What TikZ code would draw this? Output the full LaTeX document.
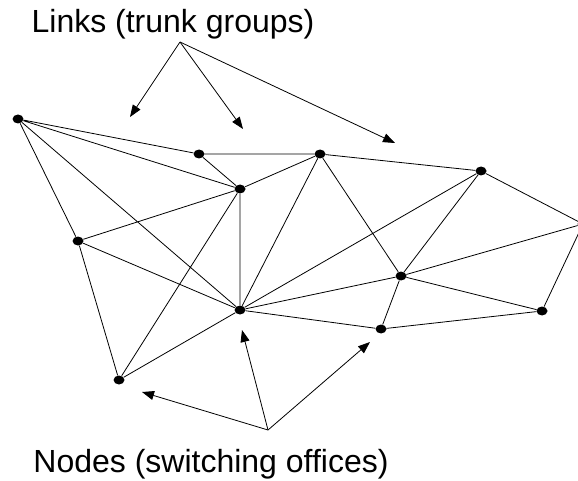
\documentclass[tikz,border=0pt]{standalone}
\usepackage{fontspec}
\setmainfont{Liberation Sans}
\usetikzlibrary{arrows.meta,shapes.geometric}

\begin{document}
\begin{tikzpicture}[x=1pt,y=-1pt,
  office/.style={ellipse,fill=black,inner sep=0pt,minimum width=11pt,minimum height=9pt},
  link/.style={line width=0.8pt},
  pointer/.style={line width=0.8pt,-{Triangle[length=12pt,width=9pt]}},
  caption/.style={anchor=base,font=\fontsize{32}{38}\selectfont}]
\useasboundingbox (0,0) rectangle (578,481);

%switching offices
\node[office] (a) at (18,119) {};
\node[office] (b) at (199,154) {};
\node[office] (c) at (240,189) {};
\node[office] (d) at (320,154) {};
\node[office] (e) at (481,171) {};
\node[office] (f) at (583,224) {};
\node[office] (g) at (401,276) {};
\node[office] (h) at (542,311) {};
\node[office] (i) at (381,329) {};
\node[office] (j) at (78,241) {};
\node[office] (k) at (240,310) {};
\node[office] (l) at (119,380) {};

%trunk groups
\draw[link] (a)--(b) (a)--(c) (a)--(j) (a)--(k)
  (b)--(d) (b)--(c)
  (c)--(d) (c)--(j) (c)--(k) (c)--(l)
  (d)--(k) (d)--(g) (d)--(e)
  (e)--(k) (e)--(g) (e)--(f)
  (f)--(g) (f)--(h)
  (g)--(k) (g)--(h) (g)--(i)
  (i)--(k) (i)--(h)
  (j)--(k) (j)--(l) (l)--(k);

%labels
\node[caption] (links) at (173,33) {Links (trunk groups)};
\node[caption] (nodes) at (211,472) {Nodes (switching offices)};

\coordinate (ltop) at (180,42);
\coordinate (lt1) at (130,117);
\coordinate (lt2) at (243,129);
\coordinate (lt3) at (395,143);
\draw[pointer] (ltop)--(lt1);
\draw[pointer] (ltop)--(lt2);
\draw[pointer] (ltop)--(lt3);

\coordinate (nbot) at (268,430);
\coordinate (nb1) at (142,392);
\coordinate (nb2) at (242,330);
\coordinate (nb3) at (370,342);
\draw[pointer] (nbot)--(nb1);
\draw[pointer] (nbot)--(nb2);
\draw[pointer] (nbot)--(nb3);

\end{tikzpicture}
\end{document}
